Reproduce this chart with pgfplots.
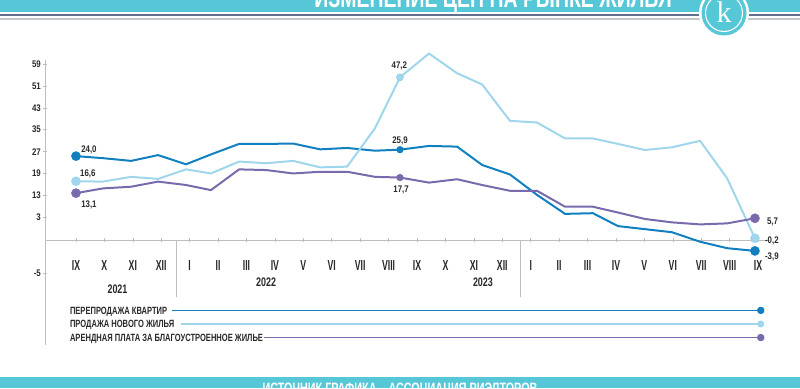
\documentclass[border=0pt]{standalone}
\usepackage{fontspec}
\setmainfont{Liberation Sans}[FakeStretch=0.72]
\newfontfamily\numf{Liberation Sans}[FakeStretch=0.82]
\newfontfamily\narf{Liberation Sans}[FakeStretch=0.6]
\newfontfamily\serf{Liberation Serif}
\usepackage{pgfplots}
\pgfplotsset{compat=1.18}
\definecolor{cDark}{RGB}{17,128,192}
\definecolor{cLight}{RGB}{160,214,236}
\definecolor{cPurp}{RGB}{120,106,172}
\definecolor{cCyan}{RGB}{86,199,215}
\definecolor{cTxt}{RGB}{40,40,40}
\definecolor{cAx}{RGB}{190,190,190}
\definecolor{cStripe}{RGB}{95,112,140}
\definecolor{cStripe2}{RGB}{195,200,206}
\newcommand\legfont{\fontsize{10.5}{12}\selectfont\bfseries}
\newcommand\lblfont{\numf\fontsize{9.6}{11}\selectfont\bfseries}

\pgfplotstableread{
x y
0 24.0
0.95 23.4
1.94 22.6
2.89 24.3
3.87 21.6
4.75 24.5
5.74 27.6
6.69 27.6
7.64 27.7
8.59 26.0
9.54 26.4
10.52 25.6
11.40 25.9
12.42 27.0
13.41 26.8
14.29 21.4
15.27 18.6
16.22 12.6
17.21 7.0
18.19 7.2
19.07 3.4
20.02 2.5
20.97 1.6
21.96 -1.2
22.91 -3.1
23.89 -3.9
}\resale

\pgfplotstableread{
x y
0 16.6
0.95 16.5
1.94 17.9
2.89 17.3
3.87 20.1
4.75 18.9
5.74 22.4
6.69 21.9
7.64 22.6
8.59 20.7
9.54 20.9
10.52 32.2
11.40 47.2
12.42 54.2
13.41 48.4
14.29 45.1
15.27 34.4
16.22 33.9
17.21 29.2
18.19 29.2
19.07 27.6
20.02 25.8
20.97 26.6
21.96 28.5
22.91 17.5
23.89 -0.2
}\newhome

\pgfplotstableread{
x y
0 13.1
0.95 14.5
1.94 15.0
2.89 16.5
3.87 15.5
4.75 14.0
5.74 20.1
6.69 19.9
7.64 18.9
8.59 19.4
9.54 19.4
10.52 17.9
11.40 17.7
12.42 16.2
13.41 17.2
14.29 15.5
15.27 13.8
16.22 13.8
17.21 9.1
18.19 9.1
19.07 7.4
20.02 5.5
20.97 4.5
21.96 3.9
22.91 4.2
23.89 5.7
}\rent

\begin{document}
\newlength\wA\newlength\wB\newlength\wC
\settowidth\wA{\legfont ПЕРЕПРОДАЖА КВАРТИР}%
\settowidth\wB{\legfont ПРОДАЖА НОВОГО ЖИЛЬЯ}%
\settowidth\wC{\legfont АРЕНДНАЯ ПЛАТА ЗА БЛАГОУСТРОЕННОЕ ЖИЛЬЕ}%
\begin{tikzpicture}
\begin{axis}[
  scale only axis, width=725pt, height=285pt,
  xmin=-1.09, xmax=24.42, ymin=-31.6, ymax=52.3,
  clip=false,
  axis x line=middle, axis y line=left,
  axis line style={draw=cAx, line width=0.8pt, -},
  x axis line style={yshift=-2.3pt},
  xtick style={yshift=-2.3pt},
  tick style={draw=cAx, line width=0.6pt},
  major tick length=4pt,
  hide obscured x ticks=false,
  xtick={0,...,24},
  xticklabels={IX,X,XI,XII,I,II,III,IV,V,VI,VII,VIII,IX,X,XI,XII,I,II,III,IV,V,VI,VII,VIII,IX},
  xticklabel style={anchor=base, inner sep=0pt, yshift=-31.3pt, font=\narf\fontsize{14.5}{16}\selectfont\bfseries, text=cTxt},
  ytick={51.1,44.6,38.2,31.8,25.3,18.9,12.4,6.0,-10.5},
  yticklabels={59,51,43,35,27,19,13,3,-5},
  yticklabel style={anchor=east, inner sep=0pt, xshift=-2pt, font=\lblfont, text=cTxt},
  legend style={at={(axis description cs:0.0345,0.135)}, anchor=north west,
    draw=none, fill=none, inner sep=0pt, outer sep=0pt,
    row sep=5.9pt, column sep=0pt, font=\legfont, text=cTxt,
    nodes={inner sep=0pt, text height=7.7pt, text depth=0pt}},
  legend cell align=left, legend plot pos=right,
]
\coordinate (SW) at (rel axis cs:0,0);
\addplot[cDark, line width=2pt, line join=round,
  legend image code/.code={
    \draw[cDark, line width=1.5pt, overlay] ({\wA-\wC+4pt},0pt) -- (0pt,0pt);
    \draw[cDark, line width=1.5pt] (0pt,0pt) -- ({690pt-\wC},0pt);
    \fill[cDark] ({690pt-\wC},0pt) circle (2.7pt);}]
  table[x=x,y=y]{\resale};
\addlegendentry{ПЕРЕПРОДАЖА КВАРТИР}
\addplot[cLight, line width=2pt, line join=round,
  legend image code/.code={
    \draw[cLight, line width=1.3pt, overlay] ({\wB-\wC+6pt},0pt) -- (0pt,0pt);
    \draw[cLight, line width=1.3pt] (0pt,0pt) -- ({690pt-\wC},0pt);
    \fill[cLight] ({690pt-\wC},0pt) circle (2.5pt);}]
  table[x=x,y=y]{\newhome};
\addlegendentry{ПРОДАЖА НОВОГО ЖИЛЬЯ}
\addplot[cPurp, line width=2pt, line join=round,
  legend image code/.code={
    \draw[cPurp, line width=1.5pt, overlay] (5pt,0pt) -- (0pt,0pt);
    \draw[cPurp, line width=1.5pt] (0pt,0pt) -- ({690pt-\wC},0pt);
    \fill[cPurp] ({690pt-\wC},0pt) circle (2.7pt);}]
  table[x=x,y=y]{\rent};
\addlegendentry{АРЕНДНАЯ ПЛАТА ЗА БЛАГОУСТРОЕННОЕ ЖИЛЬЕ}
% markers
\addplot[forget plot, only marks, mark=*, mark size=4.6pt, cDark] coordinates {(0,24.0) (23.89,-3.9)};
\addplot[forget plot, only marks, mark=*, mark size=3.4pt, cDark] coordinates {(11.40,25.9)};
\addplot[forget plot, only marks, mark=*, mark size=4.6pt, cLight] coordinates {(0,16.6) (23.89,-0.2)};
\addplot[forget plot, only marks, mark=*, mark size=3.6pt, cLight, mark options={draw=cLight!80!cDark, line width=0.3pt}] coordinates {(11.40,47.2)};
\addplot[forget plot, only marks, mark=*, mark size=4.6pt, cPurp] coordinates {(0,13.1) (23.89,5.7)};
\addplot[forget plot, only marks, mark=*, mark size=3.4pt, cPurp] coordinates {(11.40,17.7)};
% separators
\draw[cAx, line width=0.8pt] (axis cs:3.55,-0.7) -- (axis cs:3.55,-17.4);
\draw[cAx, line width=0.8pt] (axis cs:15.62,-0.7) -- (axis cs:15.62,-17.4);
% year labels
\node[font=\fontsize{12.4}{14}\selectfont\bfseries, text=cTxt, anchor=base, inner sep=0pt] at (axis cs:1.46,-16.4) {2021};
\node[font=\fontsize{12.4}{14}\selectfont\bfseries, text=cTxt, anchor=base, inner sep=0pt] at (axis cs:6.69,-14.4) {2022};
\node[font=\fontsize{12.4}{14}\selectfont\bfseries, text=cTxt, anchor=base, inner sep=0pt] at (axis cs:14.32,-14.4) {2023};
% data labels
\node[font=\lblfont, text=cTxt, anchor=base west, inner sep=0pt] at (axis cs:0.18,25.2) {24,0};
\node[font=\lblfont, text=cTxt, anchor=base west, inner sep=0pt] at (axis cs:0.14,17.9) {16,6};
\node[font=\lblfont, text=cTxt, anchor=base west, inner sep=0pt] at (axis cs:0.18,8.9) {13,1};
\node[font=\lblfont, text=cTxt, anchor=base, inner sep=0pt] at (axis cs:11.38,49.8) {47,2};
\node[font=\lblfont, text=cTxt, anchor=base, inner sep=0pt] at (axis cs:11.40,27.6) {25,9};
\node[font=\lblfont, text=cTxt, anchor=base, inner sep=0pt] at (axis cs:11.44,13.2) {17,7};
\node[font=\lblfont, text=cTxt, anchor=base west, inner sep=0pt] at (axis cs:24.31,4.0) {5,7};
\node[font=\lblfont, text=cTxt, anchor=base west, inner sep=0pt] at (axis cs:24.24,-1.6) {-0,2};
\node[font=\lblfont, text=cTxt, anchor=base west, inner sep=0pt] at (axis cs:24.24,-6.4) {-3,9};
\end{axis}
\begin{scope}[shift={(SW)}]
\begin{scope}[xshift=-45pt, yshift=-43pt, x=1pt, y=1pt]
\pgfresetboundingbox
\path[use as bounding box] (0,0) rectangle (800,388);
% top band
\fill[cCyan] (0,376) rectangle (800,388);
\node[overlay, text=white, font=\fontsize{27}{30}\selectfont\bfseries, anchor=base, inner sep=0pt] at (493,380) {ИЗМЕНЕНИЕ ЦЕН НА РЫНКЕ ЖИЛЬЯ};
\fill[cStripe] (0,371.5) rectangle (800,373.8);
\fill[cStripe2] (0,368) rectangle (800,370);
% logo
\fill[white] (724,375) circle (25);
\fill[cCyan] (724,375) circle (22.5);
\draw[white, line width=1.1pt] (724,375) circle (18.5);
\node[text=white, font=\serf\fontsize{30}{30}\selectfont, inner sep=0pt] at (724,376) {k};
% bottom band
\fill[cCyan] (0,0) rectangle (800,11);
\node[overlay, text=white, font=\fontsize{15}{18}\selectfont\bfseries, anchor=base, inner sep=0pt] at (400,-5) {ИСТОЧНИК ГРАФИКА -- АССОЦИАЦИЯ РИЭЛТОРОВ};
\end{scope}
\end{scope}
\end{tikzpicture}
\end{document}
